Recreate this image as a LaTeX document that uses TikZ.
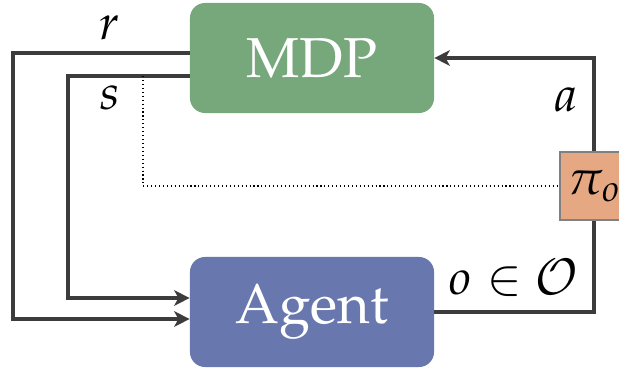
\documentclass[tikz,border=0pt]{standalone}
\usepackage{amsmath}
\usepackage[T1]{fontenc}
\usepackage{mathpazo}
\usetikzlibrary{arrows.meta}
\definecolor{mdpgreen}{HTML}{76A87C}
\definecolor{agentblue}{HTML}{6878AE}
\definecolor{policyorange}{HTML}{E6A883}
\definecolor{wiregray}{HTML}{3C3C3C}

\begin{document}
\begin{tikzpicture}[x=0.025cm,y=-0.025cm,
  block/.style={rectangle,rounded corners=0.375cm,minimum width=6.1cm,minimum height=2.75cm,inner sep=0pt,text=white,font=\fontsize{40}{44}\selectfont},
  wire/.style={draw=wiregray,line width=2.4pt},
  feed/.style={wire,-{Stealth[length=11pt,width=11pt,inset=3pt]}},
  lbl/.style={font=\fontsize{35}{40}\selectfont,inner sep=0pt}]
\useasboundingbox (0,0) rectangle (619,370);
\node[block,fill=mdpgreen] (mdp) at (312,58) {MDP};
\node[block,fill=agentblue] (agent) at (312,312) {Agent};
\node[lbl,draw=gray,fill=policyorange,line width=0.8pt,minimum size=1.7cm] (pi) at (594,186) {$\pi_o$};
\coordinate (rtop) at (13,53);
\coordinate (rlow) at (13,319);
\coordinate (stop) at (68,76);
\coordinate (slow) at (68,298);
\coordinate (sdot) at (143,76);
\draw[feed] (mdp.west |- rtop) -- (rtop) -- (rlow) -- (agent.west |- rlow);
\draw[feed] (mdp.west |- stop) -- (stop) -- (slow) -- (agent.west |- slow);
\draw[dotted,line width=0.8pt] (sdot) |- (pi.west);
\draw[feed] (pi.north) |- (mdp.east);
\draw[wire] (agent.east) -| (pi.south);
\node[lbl] (rlabel) at (110,28) {$r$};
\node[lbl] (slabel) at (110,98) {$s$};
\node[lbl] (alabel) at (566,100) {$a$};
\node[lbl] (olabel) at (514,278) {$o \in \mathcal{O}$};
\end{tikzpicture}
\end{document}
